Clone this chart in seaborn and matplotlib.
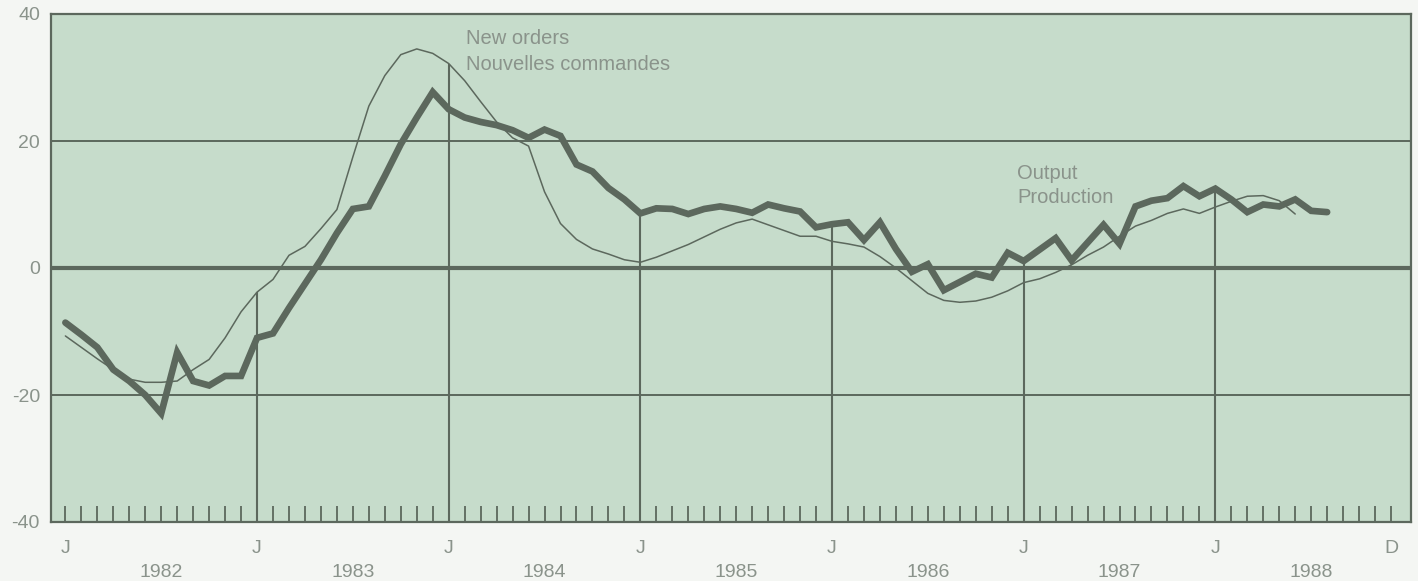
import numpy as np
import pandas as pd
import matplotlib
matplotlib.use("Agg")
import matplotlib.pyplot as plt
import matplotlib.transforms as mtransforms
import seaborn as sns

# ---- data (monthly, Jan 1982 = month 0) ----
output_vals = [-8.6, -10.5, -12.5, -16.0, -17.8, -20.0, -22.9, -13.3, -17.8, -18.5, -17.0, -17.0,
               -11.0, -10.3, -6.3, -2.5, 1.3, 5.5, 9.3, 9.7, 14.5, 19.5, 23.7, 27.7,
               25.0, 23.7, 23.0, 22.5, 21.7, 20.5, 21.8, 20.8, 16.3, 15.2, 12.6, 10.8,
               8.6, 9.4, 9.3, 8.5, 9.3, 9.7, 9.3, 8.7, 10.0, 9.4, 8.9, 6.4,
               6.9, 7.2, 4.4, 7.2, 3.0, -0.6, 0.6, -3.5, -2.2, -0.9, -1.5, 2.4,
               1.1, 2.9, 4.7, 1.2, 4.0, 6.8, 3.8, 9.7, 10.6, 11.0, 12.9, 11.3,
               12.5, 10.8, 8.8, 10.0, 9.7, 10.8, 9.0, 8.8]
orders_vals = [-10.7, -12.5, -14.3, -16.0, -17.5, -18.0, -18.0, -17.8, -16.0, -14.4, -11.0, -6.9,
               -3.8, -1.8, 2.0, 3.4, 6.2, 9.2, 17.5, 25.5, 30.3, 33.6, 34.5, 33.8,
               32.2, 29.5, 26.2, 23.0, 20.5, 19.2, 12.0, 7.0, 4.5, 3.0, 2.2, 1.3,
               0.9, 1.7, 2.7, 3.7, 4.9, 6.1, 7.1, 7.7, 6.8, 5.9, 5.0, 5.0,
               4.2, 3.8, 3.3, 1.8, 0.0, -2.0, -4.0, -5.1, -5.4, -5.2, -4.6, -3.6,
               -2.3, -1.7, -0.7, 0.5, 2.0, 3.3, 5.0, 6.6, 7.5, 8.6, 9.3, 8.6,
               9.6, 10.5, 11.3, 11.4, 10.6, 8.5]
years = ["1982", "1983", "1984", "1985", "1986", "1987", "1988"]
month_labels = ["J", "J", "J", "J", "J", "J", "J", "D"]
month_label_pos = [0, 12, 24, 36, 48, 60, 72, 83]
ytick_vals = [-40, -20, 0, 20, 40]
ytick_labels = ["-40", "-20", "0", "20", "40"]

df_out = pd.DataFrame({"month": np.arange(len(output_vals)), "value": output_vals})
df_ord = pd.DataFrame({"month": np.arange(len(orders_vals)), "value": orders_vals})

# ---- styling ----
sns.set_theme(style="white")
plt.rcParams["font.family"] = ["Liberation Sans", "DejaVu Sans"]

LINE = "#5c685d"
TEXT = "#8a938b"
BG = "#c6dccb"
FIGBG = "#f4f6f3"

fig = plt.figure(figsize=(14.18, 5.81), dpi=100, facecolor=FIGBG)
ax = fig.add_axes([51 / 1418, 1 - 522 / 581, 1360 / 1418, 508 / 581])
ax.set_facecolor(BG)

ax.set_xlim(-0.9, 84.25)
ax.set_ylim(-40, 40)

# grid
for yv in (-20, 20):
    ax.axhline(yv, color=LINE, lw=1.4, zorder=1)
ax.axhline(0, color=LINE, lw=3.0, zorder=1)

# January drop lines: from the bottom up to the higher of the two curves
jan = list(range(12, 84, 12))
tops = [max(output_vals[m], orders_vals[m]) for m in jan]
ax.vlines(jan, -40, tops, color=LINE, lw=1.5, zorder=1)

sns.lineplot(data=df_ord, x="month", y="value", ax=ax, color=LINE, lw=1.1, zorder=3)
sns.lineplot(data=df_out, x="month", y="value", ax=ax, color=LINE, lw=4.8, zorder=4,
             solid_joinstyle="miter")

for sp in ax.spines.values():
    sp.set_color(LINE)
    sp.set_linewidth(1.6)
    sp.set_visible(True)

ax.set_xticks(np.arange(84))
ax.set_xticklabels([])
ax.tick_params(axis="x", direction="in", length=11.5, width=1.3, color=LINE, bottom=True, top=False)
ax.set_yticks(ytick_vals)
ax.set_yticklabels(ytick_labels)
ax.tick_params(axis="y", length=0, pad=8, labelsize=14, labelcolor=TEXT, left=True)
ax.set_xlabel("")
ax.set_ylabel("")

trans = mtransforms.blended_transform_factory(ax.transData, ax.transAxes)
for pos, lab in zip(month_label_pos, month_labels):
    ax.text(pos, -0.052, lab, transform=trans, ha="center", va="center",
            fontsize=14, color=TEXT)
for i, yr in enumerate(years):
    ax.text(6 + 12 * i, -0.1, yr, transform=trans, ha="center", va="center",
            fontsize=14, color=TEXT)

ax.text(25.1, 35.2, "New orders", ha="left", va="baseline", fontsize=14.5, color=TEXT)
ax.text(25.1, 31.2, "Nouvelles commandes", ha="left", va="baseline", fontsize=14.5, color=TEXT)
ax.text(59.6, 14.0, "Output", ha="left", va="baseline", fontsize=14.5, color=TEXT)
ax.text(59.6, 10.2, "Production", ha="left", va="baseline", fontsize=14.5, color=TEXT)

fig.savefig("out.png", dpi=100, facecolor=FIGBG)
